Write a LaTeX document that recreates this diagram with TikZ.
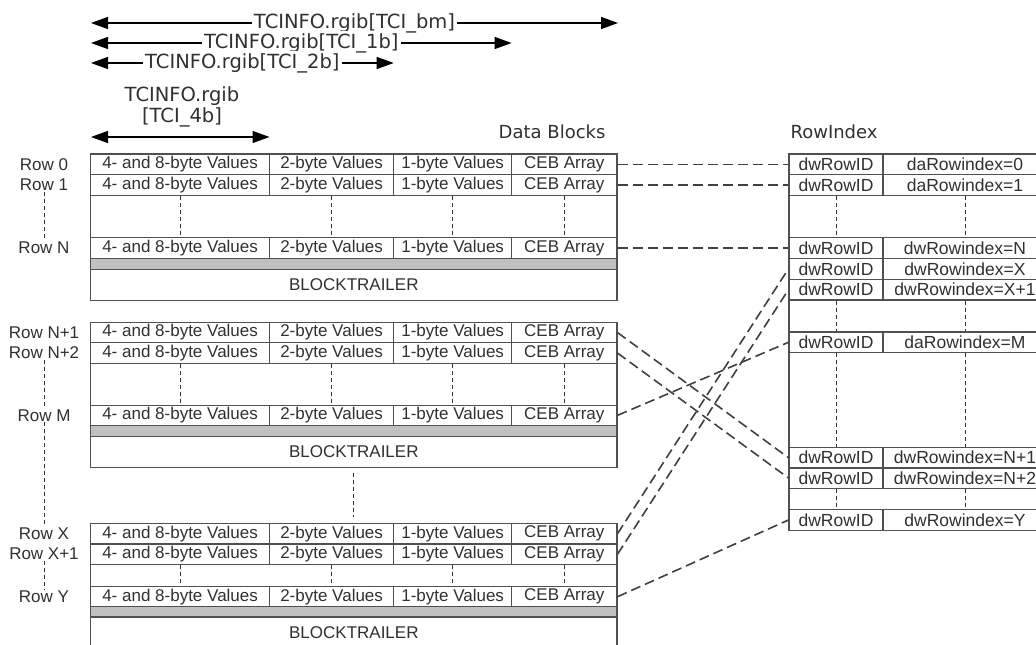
\documentclass[tikz,border=0pt]{standalone}
\usepackage{fontspec}
\setmainfont{Liberation Sans}
\newfontfamily\labelfont{DejaVu Sans}
\usetikzlibrary{arrows.meta}
\definecolor{linegray}{HTML}{505050}
\definecolor{bandgray}{HTML}{C0C0C0}
\definecolor{linkgray}{HTML}{404040}
\definecolor{textgray}{HTML}{303030}
\tikzset{
  cell/.style={draw=linegray,line width=1.1pt,inner sep=0pt,minimum height=20.6pt,text=textgray,font=\fontsize{17}{17}\selectfont},
  idx/.style={cell,font=\fontsize{17.5}{17.5}\selectfont},
  band/.style={draw=linegray,line width=1.1pt,fill=bandgray,inner sep=0pt,minimum height=11pt,minimum width=526.3pt},
  frame/.style={draw=linegray,line width=1.1pt},
  rowlbl/.style={inner sep=1pt,text=textgray,font=\fontsize{17}{17}\selectfont},
  gapline/.style={draw=black!80,line width=1pt,dash pattern=on 4pt off 3pt},
  link/.style={draw=linkgray,line width=1.6pt,dash pattern=on 10pt off 5pt},
  dim/.style={{Triangle[length=17pt,width=12pt]}-{Triangle[length=17pt,width=12pt]},line width=1.3pt},
  dimlbl/.style={fill=white,inner sep=2pt,text=textgray,font=\labelfont\fontsize{19.5}{21}\selectfont},
}
% one row of a data block
\newcommand{\datarow}[2]{%
  \node[cell,minimum width=178.8pt] (#1a) at (180.1,#2) {4- and 8-byte Values};
  \node[cell,minimum width=124.2pt] (#1b) at (331.6,#2) {2-byte Values};
  \node[cell,minimum width=117.9pt] (#1c) at (452.65,#2) {1-byte Values};
  \node[cell,minimum width=105.4pt] (#1d) at (564.3,#2) {CEB Array};
}
% one row of the row index
\newcommand{\idxrow}[3]{%
  \node[idx,minimum width=94pt] (#1id) at (836,#2) {dwRowID};
  \node[idx,minimum width=164pt] (#1ix) at (965,#2) {#3};
}

\begin{document}
\begin{tikzpicture}[x=1pt,y=-1pt]
\useasboundingbox (0,0) rectangle (1036,645);
\clip (0,0) rectangle (1036,645);

% size arrows
\coordinate (bmL) at (91,23);  \coordinate (bmR) at (618,23);
\coordinate (obL) at (91,43);  \coordinate (obR) at (511.6,43);
\coordinate (tbL) at (91,63);  \coordinate (tbR) at (393.7,63);
\coordinate (fbL) at (91,137); \coordinate (fbR) at (269.5,137);
\draw[dim] (bmL) -- node[dimlbl] (bmlbl) {TCINFO.rgib[TCI\_bm]} (bmR);
\draw[dim] (obL) -- node[dimlbl] (oblbl) {TCINFO.rgib[TCI\_1b]} (obR);
\draw[dim] (tbL) -- node[dimlbl] (tblbl) {TCINFO.rgib[TCI\_2b]} (tbR);
\draw[dim] (fbL) -- (fbR);
\node[dimlbl,align=center] (fblbl) at (182,107) {TCINFO.rgib\\{}[TCI\_4b]};

\node[anchor=east,text=textgray,font=\labelfont\fontsize{18}{18}\selectfont] (dblbl) at (609,132) {Data Blocks};
\node[anchor=west,text=textgray,font=\labelfont\fontsize{18}{18}\selectfont] (rilbl) at (787,132) {RowIndex};

% first data block
\draw[frame] (90.7,154) rectangle (617,300.7);
\datarow{r0}{164.3}
\datarow{r1}{184.9}
\datarow{rN}{248}
\node[band] (band1) at (353.85,263.8) {};
\node[cell,minimum width=526.3pt,minimum height=31.4pt] (trail1) at (353.85,285) {BLOCKTRAILER};
\foreach \col in {a,b,c,d} \draw[gapline] (r1\col.south) -- (rN\col.north);

% second data block
\draw[frame] (90.7,322.3) rectangle (617,467.3);
\datarow{rNa}{332.6}
\datarow{rNb}{353.1}
\datarow{rM}{415.35}
\node[band] (band2) at (353.85,431.2) {};
\node[cell,minimum width=526.3pt,minimum height=30.6pt] (trail2) at (353.85,452) {BLOCKTRAILER};
\foreach \col in {a,b,c,d} \draw[gapline] (rNb\col.south) -- (rM\col.north);

% third data block
\draw[frame] (90.7,523.3) rectangle (617,660);
\datarow{rX}{533.65}
\datarow{rXa}{554.15}
\datarow{rY}{596.7}
\node[band] (band3) at (353.85,611.7) {};
\node[cell,minimum width=526.3pt,minimum height=31.3pt] (trail3) at (353.85,632.35) {BLOCKTRAILER};
\foreach \col in {a,b,c,d} \draw[gapline] (rXa\col.south) -- (rY\col.north);
\draw[gapline,shorten <=5pt,shorten >=6pt] (trail2.south) -- (trail2.south |- rXb.north);

% row labels
\node[rowlbl] (lbl0) at (44,164.3) {Row 0};
\node[rowlbl] (lbl1) at (44,184.9) {Row 1};
\node[rowlbl] (lblN) at (44,248) {Row N};
\node[rowlbl] (lblNa) at (44,332.6) {Row N+1};
\node[rowlbl] (lblNb) at (44,353.1) {Row N+2};
\node[rowlbl] (lblM) at (44,415.35) {Row M};
\node[rowlbl] (lblX) at (44,533.65) {Row X};
\node[rowlbl] (lblXa) at (44,554.15) {Row X+1};
\node[rowlbl] (lblY) at (44,596.7) {Row Y};
\draw[gapline] (lbl1) -- (lblN);
\draw[gapline] (lblNb) -- (lblM);
\draw[gapline] (lblM) -- (lblX);
\draw[gapline] (lblXa) -- (lblY);

% row index
\draw[frame] (789,154) rectangle (1047,530.7);
\idxrow{i0}{164.3}{daRowindex=0}
\idxrow{i1}{184.9}{daRowindex=1}
\idxrow{iN}{248}{dwRowindex=N}
\idxrow{iX}{268.8}{dwRowindex=X}
\idxrow{iXa}{289.65}{dwRowindex=X+1}
\idxrow{iM}{342.3}{daRowindex=M}
\idxrow{iNa}{457.7}{dwRowindex=N+1}
\idxrow{iNb}{478}{dwRowindex=N+2}
\idxrow{iY}{520}{dwRowindex=Y}
\foreach \col in {id,ix} {
  \draw[gapline] (i1\col.south) -- (iN\col.north);
  \draw[gapline] (iXa\col.south) -- (iM\col.north);
  \draw[gapline] (iM\col.south) -- (iNa\col.north);
  \draw[gapline] (iNb\col.south) -- (iY\col.north);
}

% links from data rows to index entries
\draw[link] (r0d.east) -- (i0id.west);
\draw[link] (r1d.east) -- (i1id.west);
\draw[link] (rNd.east) -- (iNid.west);
\draw[link] (rNad.east) -- (iNaid.west);
\draw[link] (rNbd.east) -- (iNbid.west);
\draw[link] (rMd.east) -- (iMid.west);
\draw[link] (rXd.east) -- (iXid.west);
\draw[link] (rXad.east) -- (iXaid.west);
\draw[link] (rYd.east) -- (iYid.west);
\end{tikzpicture}
\end{document}
